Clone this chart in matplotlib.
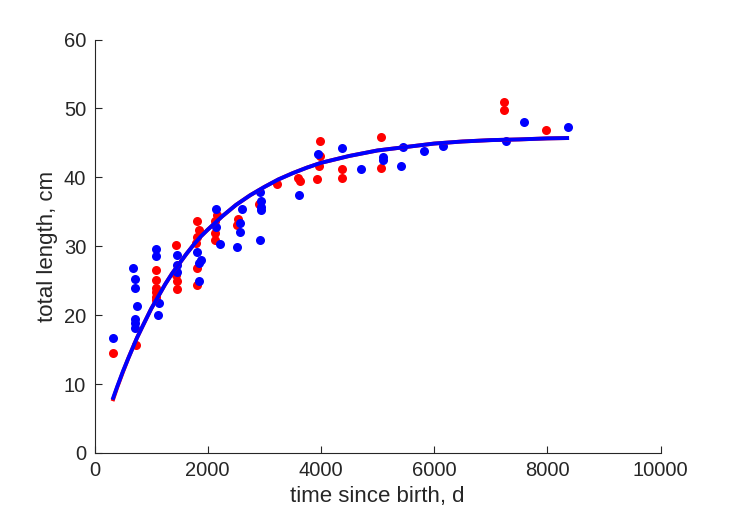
import numpy as np
import matplotlib.pyplot as plt

plt.rcParams['font.family'] = ['Liberation Sans', 'DejaVu Sans']

# red series: time since birth (d), total length (cm)
t_red = [327, 740,
         1081, 1081, 1081, 1081, 1081, 1081,
         1440, 1440, 1452, 1452,
         1806, 1840, 1806, 1790, 1815, 1806,
         2160, 2135, 2135, 2135,
         2540, 2510,
         2900, 3230, 3600, 3630,
         3984, 3990, 3960, 3926,
         4370, 4370, 5060, 5070,
         7240, 7240, 7977]
L_red = [14.5, 15.6,
         26.5, 25.1, 23.9, 23.3, 22.7, 22.2,
         30.2, 25.8, 24.9, 23.8,
         33.7, 32.3, 31.4, 30.4, 26.8, 24.4,
         34.5, 33.6, 31.9, 30.9,
         34.0, 33.1,
         36.2, 39.1, 39.9, 39.4,
         45.3, 43.1, 41.6, 39.7,
         41.2, 39.9, 45.8, 41.3,
         50.9, 49.8, 46.9]

# blue series
t_blue = [327,
          686, 716, 716, 756, 716, 716, 716,
          1081, 1081, 1145, 1117,
          1465, 1452, 1452,
          1806, 1875, 1850, 1850,
          2147, 2147, 2217,
          2600, 2571, 2571, 2512,
          2924, 2935, 2935, 2935, 2924,
          3613, 3954, 4380, 4709, 5102, 5102,
          5415, 5456, 5827, 6152, 7270, 7594, 8360]
L_blue = [16.7,
          26.8, 25.2, 24.0, 21.4, 19.4, 18.8, 18.2,
          29.6, 28.6, 21.7, 20.0,
          28.7, 27.3, 26.3,
          29.2, 28.0, 27.5, 24.9,
          35.4, 32.8, 30.3,
          35.4, 33.4, 32.1, 29.9,
          37.9, 36.5, 35.7, 35.2, 30.9,
          37.5, 43.4, 44.2, 41.2, 42.5, 43.0,
          41.7, 44.4, 43.8, 44.6, 45.3, 48.0, 47.3]

# fitted growth curves
t_fit = [330, 400, 500, 600, 750, 850, 1000, 1125, 1250, 1375, 1500,
         1625, 1750, 1875, 2000, 2250, 2500, 2750, 3000, 3250, 3500,
         3750, 4000, 4500, 5000, 5500, 6000, 6500, 7000, 7500, 8000, 8350]
L_fit_blue = [8.0, 9.6, 11.8, 13.8, 16.7, 18.4, 20.9, 22.7, 24.5, 26.1, 27.5,
              28.9, 30.2, 31.4, 32.4, 34.3, 36.0, 37.4, 38.6, 39.7, 40.6,
              41.4, 42.1, 43.1, 43.9, 44.4, 44.9, 45.2, 45.4, 45.5, 45.65, 45.7]
L_fit_red = [7.8, 9.5, 11.7, 13.8, 16.7, 18.4, 20.9, 22.7, 24.5, 26.1, 27.5,
             28.9, 30.2, 31.4, 32.4, 34.3, 36.0, 37.4, 38.6, 39.7, 40.6,
             41.4, 42.1, 43.1, 43.9, 44.4, 44.9, 45.2, 45.4, 45.5, 45.65, 45.7]

fig = plt.figure(figsize=(7.29, 5.21), dpi=100)
ax = fig.add_axes([94.5 / 729, 1 - 453 / 521, 566 / 729, 413.5 / 521])

ax.plot(t_red, L_red, 'o', color='red', ms=6.5, mec='none')
ax.plot(t_blue, L_blue, 'o', color='blue', ms=6.5, mec='none')
ax.plot(t_fit, L_fit_red, '-', color='red', lw=2.8)
ax.plot(t_fit, L_fit_blue, '-', color='blue', lw=2.8)

ax.set_xlim(0, 10000)
ax.set_ylim(0, 60)
ax.set_xticks(np.arange(0, 10001, 2000))
ax.set_yticks(np.arange(0, 61, 10))

dark = (0.15, 0.15, 0.15)
for s in ['top', 'right']:
    ax.spines[s].set_visible(False)
for s in ['left', 'bottom']:
    ax.spines[s].set_color(dark)
    ax.spines[s].set_linewidth(0.8)
ax.tick_params(direction='in', length=5, width=0.8, colors=dark,
               labelsize=14.5, pad=6)

ax.set_xlabel('time since birth, d', fontsize=16, color=dark)
ax.set_ylabel('total length, cm', fontsize=16, color=dark)

fig.savefig('out.png', dpi=100)
